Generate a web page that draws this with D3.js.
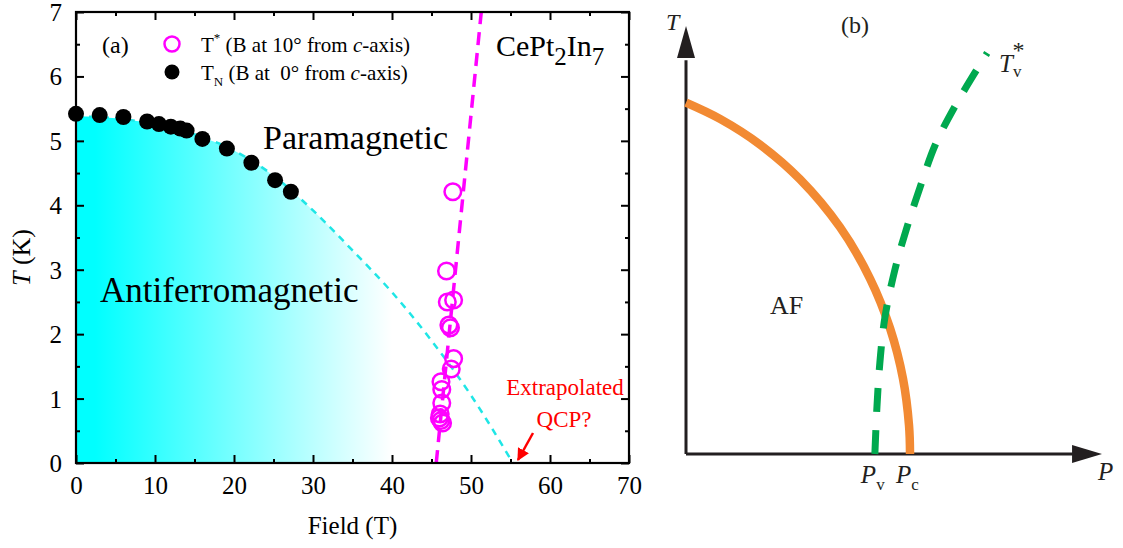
<!DOCTYPE html>
<html><head><meta charset="utf-8">
<script src="https://cdn.jsdelivr.net/npm/d3@7"></script>
<style>
html,body{margin:0;padding:0;background:#fff;}
svg{display:block;font-family:"Liberation Serif","Times New Roman",serif;}
text{white-space:pre;}
</style></head>
<body>
<svg id="chart" width="1123" height="548"></svg>
<script>
// ---------- Panel (a) data ----------
const fieldTN = [0, 3, 6, 9, 10.5, 12, 13.2, 14, 16, 19.1, 22.2, 25.2, 27.2];
const tempTN  = [5.42, 5.40, 5.37, 5.30, 5.26, 5.22, 5.19, 5.16, 5.03, 4.88, 4.66, 4.39, 4.21];

const fieldTstar = [47.7, 46.9, 47.0, 47.8, 47.2, 47.4, 47.8, 47.5, 46.2, 46.3, 46.3, 46.1, 46.2, 46.4, 46.0];
const tempTstar  = [4.21, 2.98, 2.50, 2.53, 2.14, 2.10, 1.62, 1.46, 1.26, 1.14, 0.93, 0.76, 0.66, 0.62, 0.70];

const fieldAF = [0, 5, 10, 15, 20, 25, 30, 35, 40, 45, 50, 55.3];
const tempAF  = [5.38, 5.35, 5.26, 5.10, 4.85, 4.46, 3.92, 3.30, 2.65, 1.90, 1.05, 0];

const fieldTstarLine = [45.6, 51.3];
const tempTstarLine  = [0, 7];

const xTicksA = [0, 10, 20, 30, 40, 50, 60, 70];
const yTicksA = [0, 1, 2, 3, 4, 5, 6, 7];

// ---------- Panel (b) schematic data (arbitrary units) ----------
const pressAF = [0, 0.817, 1.779, 2.740, 3.702, 4.423, 4.904, 5.216, 5.361, 5.385];
const tempAFb = [8.21, 7.83, 7.23, 6.42, 5.30, 4.10, 2.94, 1.76, 0.67, 0];
const pressTv = [4.54, 4.59, 4.66, 4.78, 5.02, 5.29, 5.63, 5.99, 6.51, 7.24];
const tempTv  = [0, 1.10, 2.13, 3.18, 4.30, 5.23, 6.24, 7.22, 8.20, 9.37];
const pressMarks = [4.54, 5.385]; // Pv, Pc

const svg = d3.select("#chart");
const defs = svg.append("defs");

// ================= Panel (a) =================
const x = d3.scaleLinear().domain([0, 70]).range([76, 629]);
const y = d3.scaleLinear().domain([0, 7]).range([463, 12]);

defs.append("clipPath").attr("id", "clipA").append("rect")
  .attr("x", x(0)).attr("y", y(7)).attr("width", x(70) - x(0)).attr("height", y(0) - y(7));

const grad = defs.append("linearGradient").attr("id", "afGrad")
  .attr("gradientUnits", "userSpaceOnUse")
  .attr("x1", x(0)).attr("x2", x(40)).attr("y1", 0).attr("y2", 0);
grad.append("stop").attr("offset", 0).attr("stop-color", "#00ffff");
grad.append("stop").attr("offset", 0.06).attr("stop-color", "#00ffff");
grad.append("stop").attr("offset", 1).attr("stop-color", "#ffffff");

const afPts = fieldAF.map((f, i) => [f, tempAF[i]]);
const gA = svg.append("g").attr("clip-path", "url(#clipA)");

gA.append("path").datum(afPts)
  .attr("d", d3.area().x(d => x(d[0])).y0(y(0)).y1(d => y(d[1])).curve(d3.curveMonotoneX))
  .attr("fill", "url(#afGrad)");

gA.append("path").datum(afPts)
  .attr("d", d3.line().x(d => x(d[0])).y(d => y(d[1])).curve(d3.curveMonotoneX))
  .attr("fill", "none").attr("stroke", "#1fe6e6").attr("stroke-width", 2.5)
  .attr("stroke-dasharray", "7,6");

gA.append("path").datum(fieldTstarLine.map((f, i) => [f, tempTstarLine[i]]))
  .attr("d", d3.line().x(d => x(d[0])).y(d => y(d[1])))
  .attr("fill", "none").attr("stroke", "#ff00ff").attr("stroke-width", 3.5)
  .attr("stroke-dasharray", "13,8");

gA.selectAll("circle.ts").data(fieldTstar.map((f, i) => [f, tempTstar[i]]))
  .enter().append("circle").attr("class", "ts")
  .attr("cx", d => x(d[0])).attr("cy", d => y(d[1])).attr("r", 8.3)
  .attr("fill", "none").attr("stroke", "#ff00ff").attr("stroke-width", 2.5);

svg.selectAll("circle.tn").data(fieldTN.map((f, i) => [f, tempTN[i]]))
  .enter().append("circle").attr("class", "tn")
  .attr("cx", d => x(d[0])).attr("cy", d => y(d[1])).attr("r", 8)
  .attr("fill", "#000");

// Axes
const fontTick = 25;
svg.append("g").attr("transform", `translate(0,${y(0)})`)
  .call(d3.axisBottom(x).tickValues(xTicksA).tickSize(-8).tickPadding(13));
const xMinor = d3.range(5, 70, 10);
const yMinor = d3.range(0.5, 7, 1);
svg.append("g").attr("transform", `translate(0,${y(0)})`)
  .call(d3.axisBottom(x).tickValues(xMinor).tickSize(-4).tickFormat(""));
svg.append("g").attr("transform", `translate(0,${y(7)})`)
  .call(d3.axisTop(x).tickValues(xTicksA).tickSize(-8).tickFormat(""));
svg.append("g").attr("transform", `translate(0,${y(7)})`)
  .call(d3.axisTop(x).tickValues(xMinor).tickSize(-4).tickFormat(""));
const gyl = svg.append("g").attr("transform", `translate(${x(0)},0)`)
  .call(d3.axisLeft(y).tickValues(yTicksA).tickSize(-8).tickPadding(14).tickFormat(d3.format("d")));
svg.append("g").attr("transform", `translate(${x(0)},0)`)
  .call(d3.axisLeft(y).tickValues(yMinor).tickSize(-4).tickFormat(""));
svg.append("g").attr("transform", `translate(${x(70)},0)`)
  .call(d3.axisRight(y).tickValues(yTicksA).tickSize(-8).tickFormat(""));
svg.append("g").attr("transform", `translate(${x(70)},0)`)
  .call(d3.axisRight(y).tickValues(yMinor).tickSize(-4).tickFormat(""));

svg.selectAll(".domain").remove();
svg.selectAll(".tick line").attr("stroke", "#000").attr("stroke-width", 2);
svg.selectAll(".tick text").attr("font-size", fontTick).attr("fill", "#000")
  .attr("font-family", "Liberation Serif");
gyl.selectAll(".tick text").attr("dy", "0.34em");

svg.append("rect").attr("x", x(0)).attr("y", y(7))
  .attr("width", x(70) - x(0)).attr("height", y(0) - y(7))
  .attr("fill", "none").attr("stroke", "#000").attr("stroke-width", 2.2);

// axis titles
svg.append("text").attr("x", (x(0) + x(70)) / 2).attr("y", 534)
  .attr("text-anchor", "middle").attr("font-size", 25).text("Field (T)");
const yt = svg.append("text").attr("transform", `translate(30,${(y(0) + y(7)) / 2 + 20}) rotate(-90)`)
  .attr("text-anchor", "middle").attr("font-size", 26);
yt.append("tspan").attr("font-style", "italic").text("T");
yt.append("tspan").text(" (K)");

// labels
svg.append("text").attr("x", 102).attr("y", 53).attr("font-size", 24).text("(a)");

// legend
svg.append("circle").attr("cx", 172).attr("cy", 44).attr("r", 7.5)
  .attr("fill", "none").attr("stroke", "#ff00ff").attr("stroke-width", 2.5);
svg.append("circle").attr("cx", 172).attr("cy", 72).attr("r", 7.5).attr("fill", "#000");
const l1 = svg.append("text").attr("x", 201).attr("y", 52).attr("font-size", 21);
l1.append("tspan").text("T");
l1.append("tspan").attr("font-size", 13).attr("dy", -10).text("*");
l1.append("tspan").attr("dy", 10).text(" (B at 10° from ");
l1.append("tspan").attr("font-style", "italic").text("c");
l1.append("tspan").text("-axis)");
const l2 = svg.append("text").attr("x", 201).attr("y", 80).attr("font-size", 21);
l2.append("tspan").text("T");
l2.append("tspan").attr("font-size", 13).attr("dy", 6).text("N");
l2.append("tspan").attr("dy", -6).text(" (B at  0° from ");
l2.append("tspan").attr("font-style", "italic").text("c");
l2.append("tspan").text("-axis)");

const cp = svg.append("text").attr("x", 496).attr("y", 56).attr("font-size", 30);
cp.append("tspan").text("CePt");
cp.append("tspan").attr("dy", 9).attr("font-size", 25).text("2");
cp.append("tspan").attr("dy", -9).text("In");
cp.append("tspan").attr("dy", 9).attr("font-size", 25).text("7");

svg.append("text").attr("x", 263).attr("y", 149).attr("font-size", 34).text("Paramagnetic");
svg.append("text").attr("x", 100).attr("y", 302).attr("font-size", 35).text("Antiferromagnetic");

svg.append("text").attr("x", 565).attr("y", 395).attr("text-anchor", "middle")
  .attr("font-size", 23).attr("fill", "#ff0000").text("Extrapolated");
svg.append("text").attr("x", 564).attr("y", 427).attr("text-anchor", "middle")
  .attr("font-size", 23).attr("fill", "#ff0000").text("QCP?");

defs.append("marker").attr("id", "redHead").attr("viewBox", "0 0 10 10")
  .attr("refX", 9).attr("refY", 5).attr("markerWidth", 5).attr("markerHeight", 5)
  .attr("orient", "auto").append("path").attr("d", "M0,0 L10,5 L0,10 z").attr("fill", "#ff0000");
svg.append("line").attr("x1", 533).attr("y1", 433).attr("x2", 518).attr("y2", 460)
  .attr("stroke", "#ff0000").attr("stroke-width", 2.5).attr("marker-end", "url(#redHead)");

// ================= Panel (b) =================
const xb = d3.scaleLinear().domain([0, 10]).range([686, 1102]);
const yb = d3.scaleLinear().domain([0, 10]).range([454, 26]);
const axisCol = "#231f20";

svg.append("line").attr("x1", xb(0)).attr("y1", yb(0)).attr("x2", xb(0)).attr("y2", yb(9.2))
  .attr("stroke", axisCol).attr("stroke-width", 3);
svg.append("path").attr("d", `M${xb(0)},${yb(10)} L${xb(0) - 9},${yb(9.25)} L${xb(0) + 9},${yb(9.25)} Z`)
  .attr("fill", axisCol);
svg.append("line").attr("x1", xb(0)).attr("y1", yb(0)).attr("x2", xb(9.3)).attr("y2", yb(0))
  .attr("stroke", axisCol).attr("stroke-width", 3);
svg.append("path").attr("d", `M${xb(10)},${yb(0)} L${xb(9.28)},${yb(0) - 9} L${xb(9.28)},${yb(0) + 9} Z`)
  .attr("fill", axisCol);

svg.append("path").datum(pressAF.map((p, i) => [p, tempAFb[i]]))
  .attr("d", d3.line().x(d => xb(d[0])).y(d => yb(d[1])).curve(d3.curveCatmullRom))
  .attr("fill", "none").attr("stroke", "#f28a33").attr("stroke-width", 8.5);

svg.append("path").datum(pressTv.map((p, i) => [p, tempTv[i]]))
  .attr("d", d3.line().x(d => xb(d[0])).y(d => yb(d[1])).curve(d3.curveCatmullRom))
  .attr("fill", "none").attr("stroke", "#00a94f").attr("stroke-width", 7)
  .attr("stroke-dasharray", "24,18");

svg.append("text").attr("x", 666).attr("y", 30).attr("font-size", 24)
  .attr("font-style", "italic").attr("fill", axisCol).text("T");
svg.append("text").attr("x", 1098).attr("y", 480).attr("font-size", 25)
  .attr("font-style", "italic").attr("fill", axisCol).text("P");
svg.append("text").attr("x", 855).attr("y", 33).attr("text-anchor", "middle")
  .attr("font-size", 24).attr("fill", axisCol).text("(b)");
svg.append("text").attr("x", 770).attr("y", 314).attr("font-size", 26).attr("fill", axisCol).text("AF");

const tv = svg.append("text").attr("x", 999).attr("y", 72).attr("font-size", 25).attr("fill", axisCol);
tv.append("tspan").attr("font-style", "italic").text("T");
tv.append("tspan").attr("font-size", 17).attr("dy", 5).text("v");
tv.append("tspan").attr("font-size", 24).attr("dy", -19).attr("dx", -9).text("*");

const subs = ["v", "c"];
pressMarks.forEach((p, i) => {
  const t = svg.append("text").attr("x", xb(p) - 14).attr("y", 483).attr("font-size", 25).attr("fill", axisCol);
  t.append("tspan").attr("font-style", "italic").text("P");
  t.append("tspan").attr("font-size", 17).attr("dy", 7).text(subs[i]);
});
</script>
</body></html>
